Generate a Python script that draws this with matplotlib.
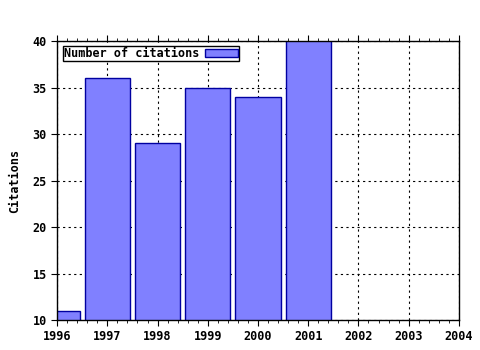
import matplotlib
matplotlib.use("Agg")
import matplotlib.pyplot as plt
from matplotlib.ticker import MultipleLocator

years = [1996, 1997, 1998, 1999, 2000, 2001]
citations = [11, 36, 29, 35, 34, 41]
series_name = "Number of citations"

plt.rcParams['font.family'] = ['DejaVu Sans Mono']
plt.rcParams['font.weight'] = 'bold'

fig = plt.figure(figsize=(4.8, 3.5), dpi=100)
ax = fig.add_axes([0.119, 0.0857, 0.837, 0.797])

ax.bar(years, citations, width=0.9, color='#8080ff', edgecolor='#0000a0',
       linewidth=1, label=series_name, zorder=2)

ax.set_xlim(1996, 2004)
ax.set_ylim(10, 40)
ax.xaxis.set_major_locator(MultipleLocator(1))
ax.xaxis.set_minor_locator(MultipleLocator(0.2))
ax.yaxis.set_major_locator(MultipleLocator(5))
ax.grid(True, which='major', color='black', linestyle=(0, (2, 3)), linewidth=0.8, zorder=1)

ax.tick_params(axis='x', which='both', top=True, direction='out', labelsize=8.5)
ax.tick_params(axis='x', which='major', length=4)
ax.tick_params(axis='x', which='minor', length=2)
ax.tick_params(axis='y', which='major', length=4, labelsize=8.5)
for s in ax.spines.values():
    s.set_linewidth(1)

ax.set_ylabel("Citations", fontsize=8.5, fontweight='bold', labelpad=8)

leg = ax.legend(loc='upper left', bbox_to_anchor=(0.005, 0.995), fontsize=8.5,
                frameon=True, fancybox=False, markerfirst=False, framealpha=1,
                handlelength=2.8, handleheight=0.6, borderpad=0.1,
                borderaxespad=0.3, handletextpad=0.5)
leg.get_frame().set_edgecolor('black')
leg.get_frame().set_linewidth(1)

fig.savefig("out.png", dpi=100)
